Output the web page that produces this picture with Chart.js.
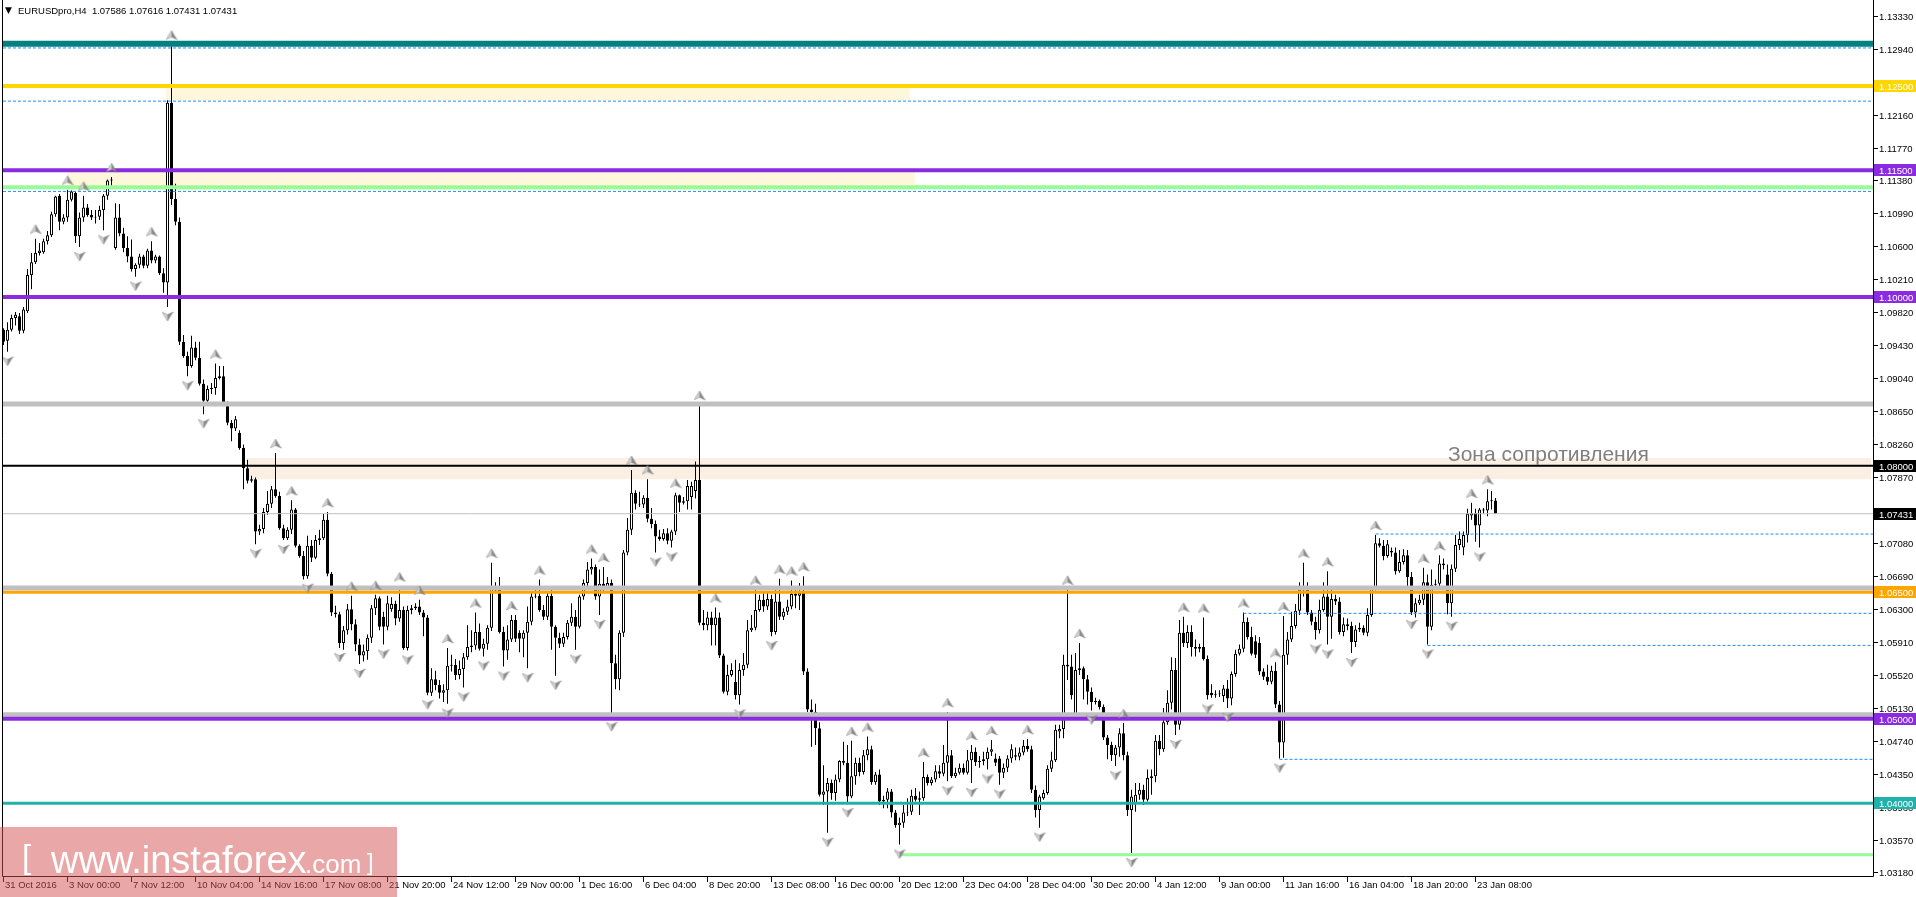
<!DOCTYPE html>
<html>
<head>
<meta charset="utf-8">
<title>EURUSDpro,H4</title>
<script src="https://cdn.jsdelivr.net/npm/chart.js@4.4.1/dist/chart.umd.min.js"></script>
<style>
  html, body { margin:0; padding:0; background:#fff; overflow:hidden; }
  #wrap { position:relative; width:1916px; height:897px; }
  #c { position:absolute; left:0; top:0; }
  .txt { position:absolute; white-space:pre; font-family:"Liberation Sans", Arial, sans-serif; line-height:1; }
  #tri { left:5px; top:6px; font-size:9px; color:#000; font-family:"DejaVu Sans", sans-serif; }
  #title { left:18px; top:6px; font-size:9.5px; color:#000; }
  #zona { left:1448px; top:443px; font-size:21px; color:#808080; }
  #wm { position:absolute; left:0; top:827px; width:397px; height:70px; background:rgba(213,79,79,0.5); }
  #wm span { position:absolute; color:#fff; font-family:"Liberation Sans", Arial, sans-serif; line-height:1; white-space:pre; }
</style>
</head>
<body>
<div id="wrap">
<canvas id="c" width="1916" height="897"></canvas>
<div class="txt" id="tri">▼</div>
<div class="txt" id="title">EURUSDpro,H4  1.07586 1.07616 1.07431 1.07431</div>
<div class="txt" id="zona">Зона сопротивления</div>
<div id="wm">
  <span style="left:22px;top:13px;font-size:33px;">[</span>
  <span style="left:51px;top:14px;font-size:38px;">www.instaforex</span>
  <span style="left:305px;top:24px;font-size:26px;">.com</span>
  <span style="left:367px;top:23px;font-size:24px;">]</span>
</div>
</div>
<script>
// ---------- data ----------
const xTickLabels = ['31 Oct 2016','3 Nov 00:00','7 Nov 12:00','10 Nov 04:00','14 Nov 16:00','17 Nov 08:00',
  '21 Nov 20:00','24 Nov 12:00','29 Nov 00:00','1 Dec 16:00','6 Dec 04:00','8 Dec 20:00','13 Dec 08:00',
  '16 Dec 00:00','20 Dec 12:00','23 Dec 04:00','28 Dec 04:00','30 Dec 20:00','4 Jan 12:00','9 Jan 00:00',
  '11 Jan 16:00','16 Jan 04:00','18 Jan 20:00','23 Jan 08:00'];
const yTickLabels = ['1.13330','1.12940','1.12550','1.12160','1.11770','1.11380','1.10990','1.10600','1.10210',
  '1.09820','1.09430','1.09040','1.08650','1.08260','1.07870','1.07480','1.07080','1.06690','1.06300','1.05910',
  '1.05520','1.05130','1.04740','1.04350','1.03960','1.03570','1.03180'];

const opens = [
1.0961,1.0948,1.0961,1.0975,1.0977,1.0960,1.0983,1.1026,1.1041,1.1052,
1.1053,1.1066,1.1073,1.1098,1.1120,1.1089,1.1094,1.1115,1.1123,1.1072,
1.1094,1.1106,1.1097,1.1094,1.1095,1.1103,1.1120,1.1138,1.1058,1.1094,
1.1075,1.1058,1.1048,1.1033,1.1038,1.1048,1.1037,1.1055,1.1043,1.1048,
1.1028,1.1017,1.1230,1.1116,1.1089,1.0947,1.0930,1.0918,1.0940,1.0928,
1.0897,1.0877,1.0891,1.0892,1.0904,1.0906,1.0873,1.0851,1.0844,1.0839,
1.0821,1.0797,1.0782,1.0784,1.0722,1.0725,1.0745,1.0755,1.0772,1.0764,
1.0726,1.0714,1.0724,1.0748,1.0705,1.0693,1.0669,1.0705,1.0691,1.0712,
1.0714,1.0736,1.0672,1.0626,1.0624,1.0590,1.0605,1.0630,1.0612,1.0588,
1.0575,1.0580,1.0596,1.0631,1.0643,1.0621,1.0609,1.0630,1.0636,1.0619,
1.0629,1.0584,1.0629,1.0631,1.0633,1.0626,1.0620,1.0531,1.0547,1.0540,
1.0531,1.0534,1.0563,1.0564,1.0552,1.0559,1.0573,1.0585,1.0587,1.0603,
1.0583,1.0589,1.0608,1.0652,1.0656,1.0603,1.0581,1.0594,1.0617,1.0602,
1.0595,1.0602,1.0615,1.0645,1.0646,1.0629,1.0621,1.0646,1.0609,1.0596,
1.0589,1.0597,1.0614,1.0621,1.0609,1.0645,1.0661,1.0677,1.0680,1.0645,
1.0660,1.0656,1.0661,1.0566,1.0547,1.0602,1.0697,1.0724,1.0768,1.0755,
1.0754,1.0762,1.0737,1.0731,1.0716,1.0713,1.0720,1.0711,1.0722,1.0765,
1.0756,1.0758,1.0763,1.0770,1.0783,1.0614,1.0611,1.0620,1.0611,1.0620,
1.0575,1.0532,1.0552,1.0544,1.0528,1.0558,1.0564,1.0605,1.0608,1.0629,
1.0641,1.0633,1.0642,1.0603,1.0639,1.0621,1.0627,1.0633,1.0648,1.0646,
1.0649,1.0556,1.0511,1.0508,1.0489,1.0410,1.0414,1.0424,1.0412,1.0428,
1.0450,1.0448,1.0408,1.0432,1.0448,1.0437,1.0457,1.0464,1.0425,1.0434,
1.0402,1.0404,1.0414,1.0389,1.0374,1.0377,1.0389,1.0390,1.0409,1.0404,
1.0406,1.0431,1.0424,1.0428,1.0438,1.0435,1.0448,1.0457,1.0432,1.0436,
1.0442,1.0436,1.0451,1.0461,1.0449,1.0450,1.0452,1.0461,1.0453,1.0453,
1.0436,1.0442,1.0453,1.0457,1.0455,1.0460,1.0468,1.0464,1.0416,1.0392,
1.0406,1.0412,1.0441,1.0451,1.0485,1.0488,1.0564,1.0562,1.0505,1.0558,
1.0560,1.0547,1.0532,1.0520,1.0521,1.0514,1.0478,1.0469,1.0457,1.0466,
1.0483,1.0457,1.0392,1.0400,1.0410,1.0416,1.0404,1.0430,1.0432,1.0474,
1.0464,1.0496,1.0519,1.0558,1.0493,1.0602,1.0590,1.0603,1.0585,1.0583,
1.0585,1.0571,1.0531,1.0528,1.0529,1.0527,1.0536,1.0524,1.0553,1.0577,
1.0583,1.0615,1.0597,1.0592,1.0590,1.0556,1.0550,1.0544,1.0557,1.0517,
1.0472,1.0576,1.0594,1.0610,1.0628,1.0653,1.0654,1.0626,1.0615,1.0605,
1.0629,1.0645,1.0621,1.0642,1.0639,1.0603,1.0612,1.0610,1.0591,1.0606,
1.0608,1.0602,1.0623,1.0654,1.0708,1.0705,1.0693,1.0699,1.0697,1.0675,
1.0686,1.0694,1.0668,1.0626,1.0637,1.0641,1.0662,1.0609,1.0659,1.0660,
1.0684,1.0671,1.0637,1.0678,1.0706,1.0703,1.0718,1.0741,1.0744,1.0729,
1.0748,1.0747,1.0758,1.07586];

const highs = [
1.0963,1.0970,1.0979,1.0982,1.0981,1.0988,1.1033,1.1052,1.1069,1.1064,
1.1069,1.1078,1.1101,1.1120,1.1122,1.1098,1.1127,1.1126,1.1125,1.1100,
1.1120,1.1110,1.1103,1.1103,1.1108,1.1122,1.1139,1.1142,1.1111,1.1110,
1.1082,1.1072,1.1068,1.1040,1.1051,1.1050,1.1057,1.1066,1.1050,1.1049,
1.1034,1.1233,1.1299,1.1134,1.1094,1.0955,1.0935,1.0954,1.0947,1.0947,
1.0902,1.0895,1.0898,1.0921,1.0918,1.0918,1.0876,1.0854,1.0859,1.0842,
1.0825,1.0807,1.0788,1.0786,1.0730,1.0750,1.0770,1.0776,1.0815,1.0769,
1.0730,1.0727,1.0759,1.0750,1.0707,1.0699,1.0717,1.0712,1.0718,1.0724,
1.0743,1.0745,1.0674,1.0634,1.0627,1.0610,1.0636,1.0646,1.0618,1.0595,
1.0588,1.0600,1.0635,1.0647,1.0645,1.0627,1.0646,1.0644,1.0640,1.0657,
1.0633,1.0634,1.0635,1.0637,1.0641,1.0629,1.0623,1.0560,1.0557,1.0546,
1.0541,1.0584,1.0576,1.0571,1.0569,1.0578,1.0611,1.0605,1.0626,1.0613,
1.0595,1.0611,1.0685,1.0662,1.0668,1.0609,1.0611,1.0623,1.0623,1.0605,
1.0605,1.0633,1.0649,1.0653,1.0665,1.0635,1.0650,1.0653,1.0611,1.0602,
1.0602,1.0617,1.0637,1.0629,1.0647,1.0665,1.0686,1.0690,1.0683,1.0677,
1.0680,1.0668,1.0665,1.0576,1.0605,1.0700,1.0738,1.0795,1.0771,1.0769,
1.0765,1.0784,1.0750,1.0735,1.0724,1.0725,1.0726,1.0724,1.0768,1.0766,
1.0763,1.0783,1.0781,1.0805,1.0872,1.0629,1.0627,1.0627,1.0632,1.0626,
1.0577,1.0564,1.0566,1.0570,1.0566,1.0578,1.0617,1.0623,1.0653,1.0647,
1.0650,1.0650,1.0647,1.0653,1.0666,1.0631,1.0641,1.0664,1.0653,1.0661,
1.0669,1.0560,1.0523,1.0518,1.0496,1.0445,1.0430,1.0428,1.0434,1.0451,
1.0473,1.0469,1.0474,1.0454,1.0454,1.0463,1.0479,1.0468,1.0437,1.0440,
1.0409,1.0418,1.0417,1.0392,1.0383,1.0398,1.0406,1.0416,1.0418,1.0414,
1.0449,1.0434,1.0431,1.0445,1.0445,1.0469,1.0508,1.0463,1.0442,1.0447,
1.0447,1.0463,1.0469,1.0466,1.0456,1.0461,1.0466,1.0475,1.0459,1.0456,
1.0447,1.0457,1.0470,1.0466,1.0466,1.0475,1.0476,1.0468,1.0421,1.0410,
1.0416,1.0445,1.0461,1.0493,1.0493,1.0576,1.0653,1.0576,1.0578,1.0590,
1.0562,1.0552,1.0537,1.0525,1.0523,1.0517,1.0481,1.0473,1.0469,1.0489,
1.0495,1.0461,1.0416,1.0424,1.0424,1.0422,1.0440,1.0440,1.0481,1.0481,
1.0513,1.0534,1.0573,1.0572,1.0617,1.0621,1.0611,1.0611,1.0594,1.0589,
1.0620,1.0575,1.0541,1.0534,1.0534,1.0540,1.0546,1.0556,1.0582,1.0588,
1.0626,1.0620,1.0609,1.0599,1.0597,1.0560,1.0564,1.0563,1.0567,1.0521,
1.0622,1.0603,1.0627,1.0636,1.0662,1.0685,1.0662,1.0629,1.0621,1.0641,
1.0662,1.0675,1.0653,1.0647,1.0644,1.0620,1.0619,1.0615,1.0611,1.0614,
1.0611,1.0631,1.0656,1.0718,1.0714,1.0712,1.0712,1.0703,1.0703,1.0700,
1.0701,1.0700,1.0674,1.0643,1.0647,1.0679,1.0671,1.0677,1.0665,1.0694,
1.0690,1.0683,1.0683,1.0718,1.0722,1.0722,1.0749,1.0756,1.0749,1.0750,
1.0750,1.0772,1.0770,1.07616];

const lows = [
1.0943,1.0935,1.0959,1.0966,1.0956,1.0957,1.0981,1.1009,1.1039,1.1049,
1.1051,1.1062,1.1071,1.1095,1.1079,1.1086,1.1089,1.1113,1.1064,1.1059,
1.1089,1.1095,1.1091,1.1087,1.1091,1.1079,1.1115,1.1132,1.1056,1.1072,
1.1053,1.1041,1.1030,1.1024,1.1034,1.1034,1.1034,1.1040,1.1040,1.1026,
1.1005,1.0988,1.1109,1.1085,1.0943,1.0928,1.0906,1.0916,1.0925,1.0895,
1.0861,1.0875,1.0885,1.0884,1.0902,1.0871,1.0848,1.0829,1.0841,1.0819,
1.0772,1.0779,1.0780,1.0707,1.0718,1.0720,1.0742,1.0750,1.0762,1.0724,
1.0712,1.0712,1.0719,1.0703,1.0691,1.0665,1.0666,1.0686,1.0689,1.0706,
1.0712,1.0669,1.0622,1.0620,1.0584,1.0582,1.0600,1.0605,1.0580,1.0565,
1.0568,1.0570,1.0590,1.0623,1.0605,1.0588,1.0605,1.0627,1.0611,1.0615,
1.0582,1.0581,1.0624,1.0629,1.0623,1.0598,1.0528,1.0527,1.0534,1.0524,
1.0520,1.0518,1.0556,1.0546,1.0547,1.0537,1.0570,1.0579,1.0582,1.0581,
1.0574,1.0582,1.0604,1.0650,1.0601,1.0562,1.0570,1.0591,1.0591,1.0579,
1.0573,1.0560,1.0611,1.0643,1.0627,1.0617,1.0617,1.0582,1.0551,1.0584,
1.0585,1.0594,1.0610,1.0582,1.0607,1.0641,1.0656,1.0671,1.0641,1.0623,
1.0650,1.0653,1.0502,1.0535,1.0534,1.0597,1.0694,1.0718,1.0748,1.0751,
1.0750,1.0733,1.0726,1.0697,1.0711,1.0711,1.0707,1.0703,1.0718,1.0745,
1.0754,1.0748,1.0748,1.0761,1.0611,1.0605,1.0605,1.0587,1.0587,1.0572,
1.0530,1.0528,1.0550,1.0523,1.0517,1.0551,1.0560,1.0603,1.0605,1.0627,
1.0627,1.0629,1.0598,1.0600,1.0617,1.0617,1.0623,1.0630,1.0631,1.0629,
1.0552,1.0508,1.0467,1.0469,1.0408,1.0398,1.0365,1.0404,1.0403,1.0425,
1.0445,1.0400,1.0406,1.0422,1.0432,1.0434,1.0451,1.0422,1.0422,1.0398,
1.0394,1.0394,1.0383,1.0371,1.0351,1.0371,1.0385,1.0386,1.0402,1.0386,
1.0403,1.0421,1.0421,1.0425,1.0430,1.0432,1.0426,1.0430,1.0430,1.0434,
1.0434,1.0434,1.0424,1.0444,1.0442,1.0445,1.0440,1.0456,1.0444,1.0422,
1.0430,1.0437,1.0448,1.0451,1.0451,1.0457,1.0461,1.0412,1.0383,1.0371,
1.0404,1.0410,1.0437,1.0449,1.0477,1.0477,1.0546,1.0523,1.0501,1.0552,
1.0523,1.0517,1.0510,1.0517,1.0511,1.0475,1.0452,1.0450,1.0444,1.0455,
1.0451,1.0385,1.0341,1.0390,1.0404,1.0398,1.0402,1.0410,1.0425,1.0457,
1.0461,1.0493,1.0511,1.0481,1.0487,1.0585,1.0584,1.0574,1.0574,1.0579,
1.0569,1.0523,1.0525,1.0525,1.0526,1.0520,1.0513,1.0516,1.0550,1.0575,
1.0579,1.0594,1.0575,1.0572,1.0552,1.0546,1.0540,1.0541,1.0513,1.0453,
1.0454,1.0564,1.0591,1.0607,1.0623,1.0645,1.0623,1.0611,1.0594,1.0601,
1.0627,1.0588,1.0595,1.0635,1.0600,1.0598,1.0605,1.0578,1.0585,1.0603,
1.0599,1.0598,1.0621,1.0652,1.0703,1.0688,1.0691,1.0692,1.0671,1.0673,
1.0683,1.0655,1.0623,1.0620,1.0635,1.0635,1.0588,1.0605,1.0655,1.0653,
1.0677,1.0624,1.0621,1.0674,1.0700,1.0694,1.0709,1.0736,1.0710,1.0703,
1.0743,1.0740,1.0748,1.07431];

const closes = [
1.0947,1.0961,1.0975,1.0979,1.0960,1.0985,1.1026,1.1041,1.1052,1.1055,
1.1066,1.1073,1.1098,1.1119,1.1089,1.1094,1.1115,1.1125,1.1072,1.1094,
1.1106,1.1097,1.1094,1.1095,1.1103,1.1120,1.1138,1.1139,1.1094,1.1075,
1.1058,1.1048,1.1033,1.1038,1.1048,1.1037,1.1055,1.1043,1.1048,1.1028,
1.1017,1.1230,1.1116,1.1089,1.0947,1.0930,1.0918,1.0940,1.0928,1.0897,
1.0877,1.0891,1.0892,1.0904,1.0906,1.0873,1.0851,1.0844,1.0855,1.0821,
1.0797,1.0782,1.0784,1.0722,1.0725,1.0745,1.0755,1.0772,1.0764,1.0726,
1.0714,1.0724,1.0748,1.0705,1.0693,1.0669,1.0705,1.0691,1.0712,1.0714,
1.0736,1.0672,1.0626,1.0624,1.0590,1.0605,1.0630,1.0612,1.0588,1.0575,
1.0580,1.0596,1.0631,1.0643,1.0609,1.0609,1.0637,1.0636,1.0619,1.0629,
1.0584,1.0629,1.0631,1.0633,1.0626,1.0620,1.0531,1.0547,1.0540,1.0531,
1.0534,1.0563,1.0564,1.0552,1.0559,1.0573,1.0585,1.0587,1.0603,1.0583,
1.0589,1.0608,1.0655,1.0656,1.0603,1.0581,1.0594,1.0617,1.0595,1.0595,
1.0602,1.0615,1.0645,1.0646,1.0629,1.0621,1.0646,1.0609,1.0596,1.0589,
1.0597,1.0614,1.0621,1.0609,1.0645,1.0661,1.0677,1.0680,1.0645,1.0660,
1.0656,1.0661,1.0566,1.0547,1.0602,1.0697,1.0724,1.0768,1.0755,1.0754,
1.0762,1.0737,1.0731,1.0716,1.0713,1.0720,1.0711,1.0722,1.0765,1.0756,
1.0758,1.0776,1.0776,1.0783,1.0614,1.0611,1.0620,1.0611,1.0620,1.0575,
1.0532,1.0552,1.0558,1.0528,1.0558,1.0564,1.0605,1.0608,1.0629,1.0641,
1.0633,1.0642,1.0603,1.0639,1.0621,1.0627,1.0633,1.0648,1.0646,1.0649,
1.0556,1.0511,1.0508,1.0489,1.0410,1.0414,1.0424,1.0412,1.0428,1.0450,
1.0448,1.0408,1.0432,1.0448,1.0437,1.0457,1.0464,1.0425,1.0434,1.0402,
1.0404,1.0414,1.0389,1.0374,1.0377,1.0389,1.0390,1.0409,1.0404,1.0406,
1.0431,1.0424,1.0428,1.0438,1.0435,1.0448,1.0457,1.0432,1.0436,1.0442,
1.0436,1.0451,1.0461,1.0449,1.0450,1.0452,1.0461,1.0464,1.0448,1.0436,
1.0442,1.0453,1.0464,1.0455,1.0460,1.0468,1.0464,1.0416,1.0392,1.0408,
1.0412,1.0441,1.0451,1.0487,1.0488,1.0564,1.0562,1.0528,1.0558,1.0560,
1.0547,1.0532,1.0520,1.0521,1.0514,1.0478,1.0469,1.0457,1.0466,1.0483,
1.0457,1.0392,1.0408,1.0410,1.0416,1.0404,1.0430,1.0432,1.0474,1.0464,
1.0496,1.0519,1.0558,1.0493,1.0602,1.0590,1.0603,1.0585,1.0583,1.0585,
1.0571,1.0528,1.0528,1.0529,1.0530,1.0536,1.0524,1.0553,1.0577,1.0583,
1.0615,1.0597,1.0577,1.0576,1.0556,1.0550,1.0544,1.0557,1.0517,1.0472,
1.0576,1.0594,1.0610,1.0628,1.0653,1.0654,1.0626,1.0615,1.0605,1.0629,
1.0645,1.0621,1.0642,1.0639,1.0603,1.0612,1.0610,1.0591,1.0606,1.0608,
1.0602,1.0623,1.0654,1.0708,1.0705,1.0693,1.0707,1.0697,1.0675,1.0686,
1.0694,1.0668,1.0626,1.0637,1.0641,1.0662,1.0609,1.0659,1.0660,1.0684,
1.0682,1.0637,1.0678,1.0706,1.0713,1.0718,1.0743,1.0744,1.0729,1.0748,
1.0747,1.0758,1.0759,1.07431];

// fractal markers (bar indices)
const fracUp = [8,16,20,27,37,42,53,68,72,81,87,93,99,104,111,118,122,127,134,147,150,157,161,168,174,178,
  188,194,197,200,212,216,230,236,242,247,256,266,269,280,295,300,310,318,320,325,331,343,355,359,367,371];
const fracDown = [1,19,25,33,41,46,50,63,70,76,84,89,95,101,106,111,115,120,125,131,138,143,149,152,163,167,
  184,192,206,211,224,236,242,246,249,259,272,278,282,293,301,306,319,328,331,337,352,356,362,369];

// horizontal levels (price, first bar; null = from the left edge)
const levelPrices = [1.1300,1.1295,1.1250,1.1232,1.1150,1.1130,1.1125,1.1000,1.0873,1.0800,1.07431,
  1.0719,1.0655,1.0650,1.0625,1.0587,1.0505,1.0500,1.0452,1.0400,1.0339];
const levelFrom = [null,null,null,null,null,null,null,null,null,null,null,
  343,null,null,310,356,null,null,319,null,224];

// shaded zones
const zoneTop = [1.1250,1.1148,1.0809];
const zoneBottom = [1.1233,1.1126,1.0784];
const zoneFrom = [40.6,15.9,61.1];
const zoneTo = [226.6,227.9,466.9];

// price tags on the right scale
const priceTags = [1.12500,1.11500,1.10000,1.08000,1.07431,1.06500,1.05000,1.04000];

// ---------- styles ----------
const levelStyle = [
  {c:'#008080',w:6},{c:'#1E90FF',w:1,d:[3,2]},{c:'#FFD700',w:4},{c:'#1E90FF',w:1,d:[3,2]},
  {c:'#8A2BE2',w:4},{c:'#98FB98',w:4},{c:'#1E90FF',w:1,d:[3,2]},{c:'#8A2BE2',w:4},
  {c:'#C0C0C0',w:5},{c:'#000000',w:2},{c:'#C0C0C0',w:1},{c:'#1E90FF',w:1,d:[3,2]},
  {c:'#C0C0C0',w:5},{c:'#FFA500',w:3},{c:'#1E90FF',w:1,d:[3,2]},{c:'#1E90FF',w:1,d:[3,2]},
  {c:'#C0C0C0',w:5},{c:'#8A2BE2',w:4},{c:'#1E90FF',w:1,d:[3,2]},{c:'#20B2AA',w:3},{c:'#98FB98',w:3}
];
const zoneColors = ['#FFF7DC','#FFF7DC','#FBEFE4'];
const tagColors = ['#FFD700','#8A2BE2','#8A2BE2','#000000','#000000','#FFA500','#8A2BE2','#20B2AA'];

const xMin = -0.125, xMax = 467.375;
const yMin = 1.031377, yMax = 1.134947;
const FONT = '9.5px "Liberation Sans", Arial, sans-serif';

function makeArrow(up){
  const c = document.createElement('canvas');
  c.width = 12; c.height = 30;
  const g = c.getContext('2d');
  if(!up){ g.translate(0,30); g.scale(1,-1); }
  g.beginPath(); g.moveTo(6,1); g.lineTo(6,7.5); g.lineTo(0.5,10); g.closePath();
  g.fillStyle = '#cfcfcf'; g.fill();
  g.beginPath(); g.moveTo(6,1); g.lineTo(11.5,10); g.lineTo(6,7.5); g.closePath();
  g.fillStyle = '#8c8c8c'; g.fill();
  g.beginPath(); g.moveTo(6,1); g.lineTo(11.5,10); g.lineTo(6,7.5); g.lineTo(0.5,10); g.closePath();
  g.strokeStyle = 'rgba(110,110,110,0.6)'; g.lineWidth = 0.6; g.stroke();
  return c;
}

const datasets = [];
datasets.push({
  type:'bar', label:'wicks',
  data: highs.map((h,i)=>({x:i, y:[lows[i], h]})),
  backgroundColor:'#000', borderWidth:0, grouped:false, barThickness:1,
  inflateAmount:0, order:200
});
datasets.push({
  type:'bar', label:'bodies',
  data: opens.map((o,i)=>({x:i, y:[o, closes[i]]})),
  backgroundColor: opens.map((o,i)=> closes[i] >= o ? '#ffffff' : '#000000'),
  borderColor:'#000', borderWidth:1, borderSkipped:false, grouped:false, barThickness:3,
  inflateAmount:0, order:199
});
levelPrices.forEach((p,k)=>{
  const s = levelStyle[k];
  const from = levelFrom[k] === null ? xMin : levelFrom[k];
  datasets.push({
    type:'line', label:'level '+p,
    data:[{x:from, y:p},{x:xMax, y:p}],
    borderColor:s.c, borderWidth:s.w, borderDash:s.d || [],
    pointRadius:0, fill:false, clip:0, order:60-k
  });
});
datasets.push({
  type:'scatter', label:'fractal up',
  data: fracUp.map(i=>({x:i, y:highs[i]})),
  pointStyle: makeArrow(true), pointRadius:6, showLine:false, order:1
});
datasets.push({
  type:'scatter', label:'fractal down',
  data: fracDown.map(i=>({x:i, y:lows[i]})),
  pointStyle: makeArrow(false), pointRadius:6, showLine:false, order:1
});

const framePlugin = {
  id:'frame',
  beforeDatasetsDraw(chart){
    const {ctx, scales:{x, y}} = chart;
    ctx.save();
    zoneTop.forEach((t,k)=>{
      const x1 = x.getPixelForValue(zoneFrom[k]), x2 = x.getPixelForValue(zoneTo[k]);
      const y1 = y.getPixelForValue(t), y2 = y.getPixelForValue(zoneBottom[k]);
      ctx.fillStyle = zoneColors[k];
      ctx.fillRect(x1, y1, x2-x1, y2-y1);
    });
    ctx.restore();
  },
  afterDraw(chart){
    const {ctx, chartArea:a, scales:{x, y}} = chart;
    ctx.save();
    ctx.strokeStyle = '#000'; ctx.lineWidth = 1;
    ctx.beginPath();
    ctx.moveTo(a.left-0.5, 0); ctx.lineTo(a.left-0.5, a.bottom+0.5);
    ctx.lineTo(a.right+0.5, a.bottom+0.5);
    ctx.moveTo(a.right+0.5, 0); ctx.lineTo(a.right+0.5, a.bottom+0.5);
    ctx.stroke();

    ctx.font = FONT; ctx.textAlign = 'left'; ctx.textBaseline = 'alphabetic';
    // right price scale
    ctx.fillStyle = '#000';
    yTickLabels.forEach(s=>{
      const py = Math.round(y.getPixelForValue(parseFloat(s))) + 0.5;
      ctx.beginPath(); ctx.moveTo(a.right+1, py); ctx.lineTo(a.right+5, py); ctx.stroke();
      ctx.fillText(s, a.right+6, py+3);
    });
    // time scale
    xTickLabels.forEach((s,k)=>{
      const px = Math.round(x.getPixelForValue(k*16)) - 0.5;
      ctx.beginPath(); ctx.moveTo(px, a.bottom+1); ctx.lineTo(px, a.bottom+6); ctx.stroke();
      ctx.fillText(s, px+1.5, 888);
    });
    // price tags
    priceTags.forEach((p,k)=>{
      const py = Math.round(y.getPixelForValue(p));
      ctx.fillStyle = tagColors[k];
      ctx.fillRect(a.right+1, py-6, chart.width - a.right - 1, 12);
      ctx.fillStyle = '#fff';
      ctx.fillText(p.toFixed(5), a.right+6, py+3.5);
    });
    ctx.restore();
  }
};

new Chart(document.getElementById('c'), {
  type:'bar',
  data:{datasets},
  options:{
    responsive:false, animation:false, events:[], devicePixelRatio:1,
    layout:{autoPadding:false, padding:{left:3, right:43, top:2, bottom:21}},
    plugins:{legend:{display:false}, tooltip:{enabled:false}, title:{display:false}},
    scales:{
      x:{type:'linear', min:xMin, max:xMax, offset:false, display:false, ticks:{includeBounds:false}},
      y:{type:'linear', min:yMin, max:yMax, display:false, beginAtZero:false}
    }
  },
  plugins:[framePlugin]
});
</script>
</body>
</html>
